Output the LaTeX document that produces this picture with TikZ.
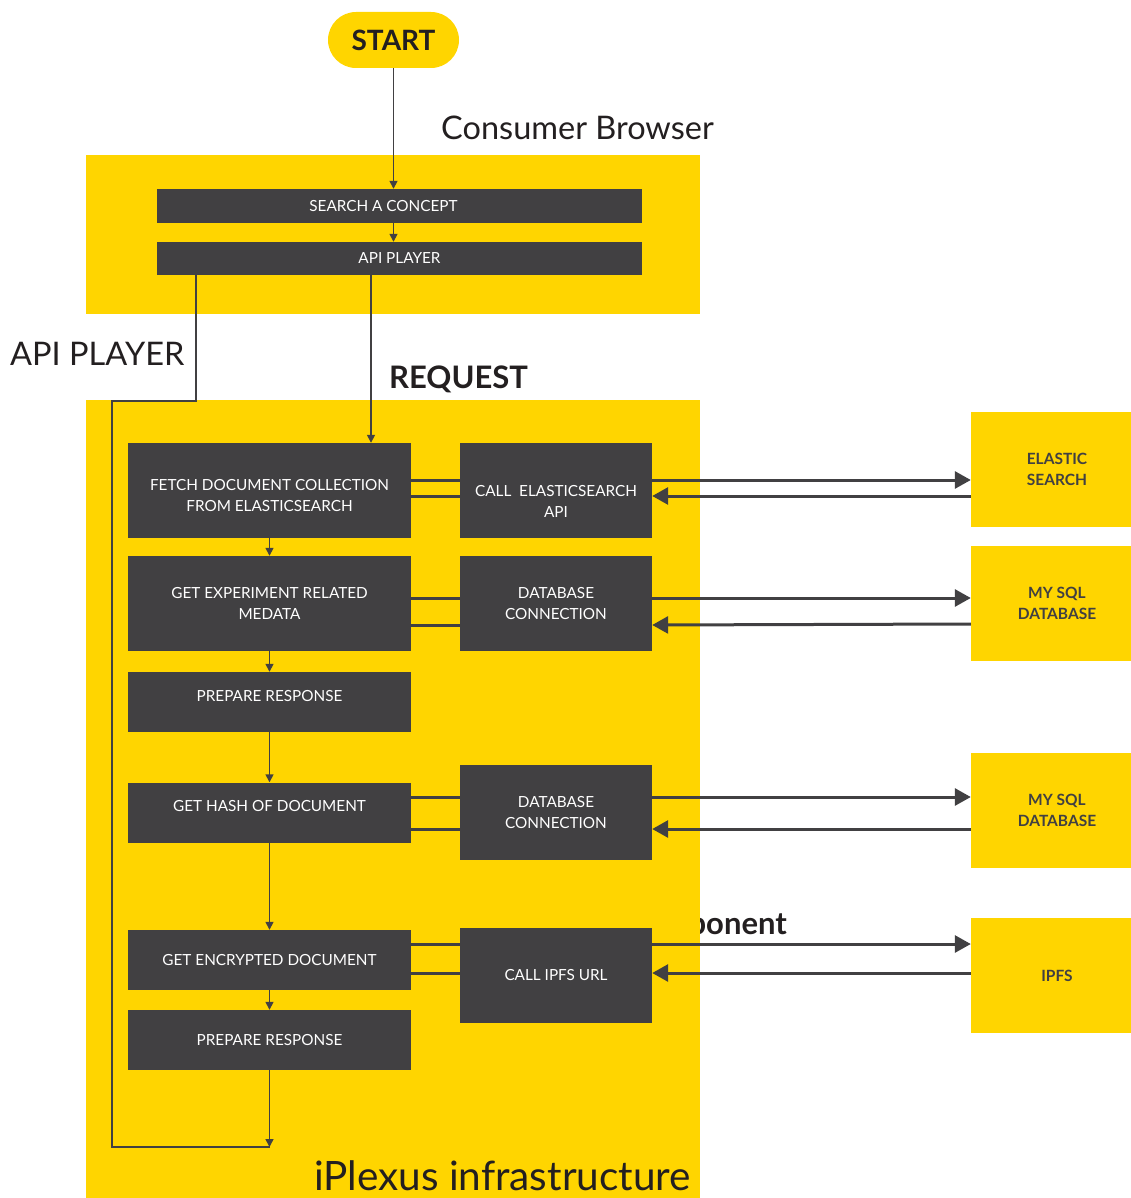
\documentclass[tikz,border=0pt]{standalone}
\usepackage{fontspec}
\setmainfont{Lato}
\usetikzlibrary{arrows.meta}
\definecolor{ipyellow}{HTML}{FFD500}
\definecolor{ipdark}{HTML}{414042}
\definecolor{iptext}{HTML}{231F20}

\begin{document}
\begin{tikzpicture}[x=1pt,y=-1pt,
    task/.style={fill=ipdark, text=white, inner sep=0pt, align=center,
      font=\fontsize{15.3}{21}\selectfont, minimum width=283pt, minimum height=95pt},
    service/.style={task, minimum width=192pt},
    store/.style={fill=ipyellow, text=ipdark, inner sep=0pt, align=center,
      font=\bfseries\fontsize{15.5}{21}\selectfont, minimum width=172pt, minimum height=115pt},
    title/.style={anchor=base west, inner sep=0pt, text=iptext, font=\fontsize{32.5}{32}\selectfont},
    link/.style={draw=ipdark, line width=1.5pt, -{Triangle[length=8pt,width=8pt]}},
    wire/.style={draw=ipdark, line width=3pt},
    call/.style={wire, -{Triangle[length=16pt,width=17pt]}}]
  \useasboundingbox (0,0) rectangle (1131,1198);

  % Label hidden behind the infrastructure area
  \node[title, anchor=base east, font=\bfseries\fontsize{31}{31}\selectfont] (component) at (787,934) {Component};

  % Yellow areas
  \fill[ipyellow] (86,155) rectangle (700,314);
  \fill[ipyellow] (86,400) rectangle (700,1198);

  % Start
  \node[fill=ipyellow, text=iptext, rounded corners=28pt, minimum width=131pt, minimum height=56pt,
    font=\bfseries\fontsize{28}{28}\selectfont] (start) at (393.5,40) {START};

  % Titles
  \node[title] (browser) at (441,140) {Consumer Browser};
  \node[title] (player) at (10,365) {API PLAYER};
  \node[title, font=\bfseries\fontsize{31}{31}\selectfont] (request) at (389,388) {REQUEST};
  \node[title, font=\fontsize{40.5}{40}\selectfont] (infra) at (314,1190) {iPlexus infrastructure};

  % Consumer browser
  \node[task, minimum width=485pt, minimum height=34pt] (search) at (399.5,206) {SEARCH A CONCEPT\hspace*{32pt}};
  \node[task, minimum width=485pt, minimum height=33pt] (api) at (399.5,258.5) {API PLAYER};

  % Infrastructure steps
  \node[task] (fetch) at (269.5,490.5) {\mbox{}\\[1pt]FETCH DOCUMENT COLLECTION\\FROM ELASTICSEARCH};
  \node[task] (experiment) at (269.5,603.5) {GET EXPERIMENT RELATED\\MEDATA};
  \node[task, minimum height=60pt] (prepare) at (269.5,702) {PREPARE RESPONSE\\[-8pt]};
  \node[task, minimum height=60pt] (hash) at (269.5,812.5) {GET HASH OF DOCUMENT\\[-8pt]};
  \node[task, minimum height=60pt] (encrypted) at (269.5,960) {GET ENCRYPTED DOCUMENT};
  \node[task, minimum height=60pt] (respond) at (269.5,1040) {PREPARE RESPONSE};
  \coordinate (finish) at (269.5,1147);

  % Services
  \node[service] (callelastic) at (556,490.5) {\mbox{}\\[11pt]CALL~ ELASTICSEARCH\\API};
  \node[service] (dbone) at (556,603.5) {DATABASE\\CONNECTION};
  \node[service] (dbtwo) at (556,812.5) {DATABASE\\CONNECTION};
  \node[service] (callipfs) at (556,975.5) {CALL IPFS URL};

  % External stores
  \node[store] (elastic) at (1057,469.5) {ELASTIC\\SEARCH};
  \node[store] (sqlone) at (1057,603.5) {MY SQL\\DATABASE};
  \node[store] (sqltwo) at (1057,810.5) {MY SQL\\DATABASE};
  \node[store] (ipfs) at (1057,975.5) {IPFS};

  % Flow
  \draw[link] (start) -- (start |- search.north);
  \draw[link] (search.south -| start) -- (api.north -| start);
  \draw[link] ([xshift=-28.5pt]api.south) -- ([xshift=101.5pt]fetch.north);
  \draw[link] (fetch) -- (experiment);
  \draw[link] (experiment) -- (prepare);
  \draw[link] (prepare) -- (hash);
  \draw[link] (hash) -- (encrypted);
  \draw[link] (encrypted) -- (respond);
  \draw[link] (respond) -- (finish);
  \draw[draw=ipdark, line width=1.5pt] ([xshift=-203.5pt]api.south) -- ++(0,126) -- ++(-84,0) |- (finish);

  % Steps to services
  \draw[wire] ([yshift=10.5pt]fetch.east) -- ([yshift=10.5pt]callelastic.west);
  \draw[wire] ([yshift=-5.5pt]fetch.east) -- ([yshift=-5.5pt]callelastic.west);
  \draw[wire] ([yshift=5.5pt]experiment.east) -- ([yshift=5.5pt]dbone.west);
  \draw[wire] ([yshift=-21.5pt]experiment.east) -- ([yshift=-21.5pt]dbone.west);
  \draw[wire] ([yshift=15.5pt]hash.east) -- ([yshift=15.5pt]dbtwo.west);
  \draw[wire] ([yshift=-16.5pt]hash.east) -- ([yshift=-16.5pt]dbtwo.west);
  \draw[wire] ([yshift=16pt]encrypted.east) -- ([yshift=31.5pt]callipfs.west);
  \draw[wire] ([yshift=-13pt]encrypted.east) -- ([yshift=2.5pt]callipfs.west);

  % Services to stores
  \draw[call] ([yshift=10.5pt]callelastic.east) -- ([yshift=-10.5pt]elastic.west);
  \draw[call] ([yshift=-26.5pt]elastic.west) -- ([yshift=-5.5pt]callelastic.east);
  \draw[call] ([yshift=5.5pt]dbone.east) -- ([yshift=5.5pt]sqlone.west);
  \draw[call] ([yshift=-20.5pt]sqlone.west) -- ([yshift=-21.5pt]dbone.east);
  \draw[call] ([yshift=15.5pt]dbtwo.east) -- ([yshift=13.5pt]sqltwo.west);
  \draw[call] ([yshift=-18.5pt]sqltwo.west) -- ([yshift=-16.5pt]dbtwo.east);
  \draw[call] ([yshift=31.5pt]callipfs.east) -- ([yshift=31.5pt]ipfs.west);
  \draw[call] ([yshift=2.5pt]ipfs.west) -- ([yshift=2.5pt]callipfs.east);
\end{tikzpicture}
\end{document}
